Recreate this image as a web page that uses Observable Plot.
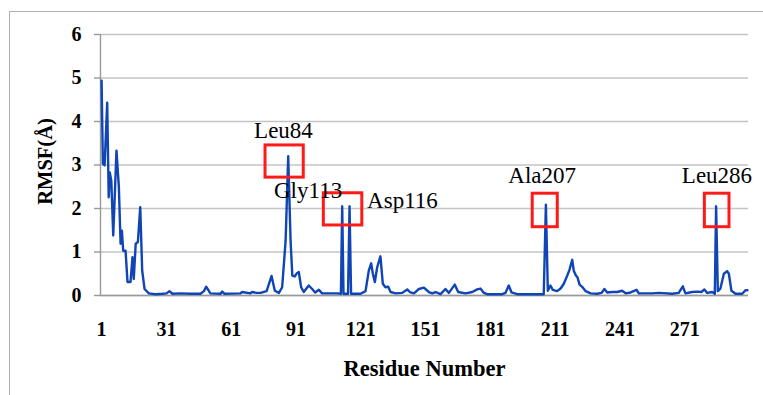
<!DOCTYPE html>
<html>
<head>
<meta charset="utf-8">
<script src="https://cdn.jsdelivr.net/npm/d3@7"></script>
<script src="https://cdn.jsdelivr.net/npm/@observablehq/plot@0.6"></script>
<style>
  html, body { margin: 0; padding: 0; background: #fff; }
  #wrap { position: relative; width: 763px; height: 395px; overflow: hidden; background: #fff; }
  #wrap svg { position: absolute; left: 0; top: 0; }
  .edgeTop { position: absolute; left: 9px; top: 11px; width: 760px; height: 0; border-top: 1.5px solid #b0b0b0; }
  .edgeLeft { position: absolute; left: 9px; top: 11px; width: 0; height: 400px; border-left: 1.5px solid #b0b0b0; }
</style>
</head>
<body>
<div id="wrap"><div class="edgeTop"></div><div class="edgeLeft"></div></div>
<script>
// Residue positions and RMSF (Å) values
const residue = [1,1.6,2.4,3.6,4.3,4.8,5.5,6.4,7.9,9,
  9.8,10.4,11,12.1,13,14.4,15.3,15.9,16.8,17.8,
  18.9,19.8,20.9,22.9,26,29.2,31.1,32.4,33.8,37.5,
  42.2,46.8,48.4,49.4,50.5,51.4,56.1,56.8,57.9,65.3,
  66.1,69.9,70.7,72.7,74.6,77.4,79.7,81.2,83.1,84.6,
  86.2,87.4,88.5,89.3,90.5,91.2,92.3,93.4,94.6,96.9,
  98.5,99.9,101.6,103.1,110.1,111.8,112.4,113,115.1,115.8,
  116.5,120.9,123.2,124.7,125.8,126.6,127.5,128.6,130.1,131.2,
  132.4,133.7,134.8,137.1,140.2,142.5,143.7,145.6,147.9,150.2,
  152.5,154.1,155.6,157.9,160.2,161.8,164.5,166.1,169.5,172.6,
  174.9,176.4,178,179.5,186.5,188,189.5,190.8,193.4,205.7,
  206.7,207.6,208.8,209.9,211.9,213.5,215,216.6,217.6,218.9,
  219.6,220.6,221.3,222.3,223.5,225.1,227.4,230.5,232.5,233.8,
  235.1,237.4,239.7,242,243.6,245.9,248.7,249.7,255.9,259,
  265.2,268.2,270.1,271.3,274.4,276.8,278.7,280.1,281.4,283.7,
  284.9,285.5,286.3,287.5,289.1,290.6,291.4,292.6,294.5,297.6,
  299.1,300];
const rmsf = [4.94,3.03,2.99,4.43,2.26,2.83,2.64,1.38,3.33,2.49,
  1.19,1.49,1.03,1.03,0.31,0.31,0.88,0.38,1.19,1.23,
  2.03,0.57,0.15,0.05,0.03,0.04,0.05,0.1,0.04,0.05,
  0.04,0.04,0.1,0.2,0.12,0.05,0.04,0.09,0.04,0.05,
  0.08,0.05,0.08,0.06,0.06,0.1,0.45,0.11,0.06,0.19,
  1.26,3.2,1.26,0.46,0.44,0.5,0.54,0.19,0.08,0.23,
  0.15,0.07,0.13,0.05,0.05,0.04,2.05,0.04,0.04,2.05,
  0.04,0.04,0.1,0.57,0.74,0.5,0.31,0.65,0.9,0.27,
  0.19,0.2,0.08,0.05,0.06,0.14,0.08,0.05,0.15,0.18,
  0.08,0.05,0.08,0.03,0.15,0.06,0.25,0.08,0.05,0.08,
  0.14,0.16,0.06,0.03,0.03,0.06,0.23,0.07,0.03,0.03,
  2.09,0.11,0.23,0.13,0.1,0.16,0.27,0.46,0.59,0.82,
  0.57,0.46,0.42,0.25,0.2,0.1,0.05,0.04,0.06,0.15,
  0.07,0.08,0.08,0.11,0.05,0.07,0.13,0.05,0.05,0.06,
  0.04,0.06,0.21,0.05,0.08,0.09,0.08,0.14,0.06,0.08,
  0.04,2.05,0.1,0.16,0.5,0.56,0.5,0.11,0.04,0.04,
  0.12,0.12];

const xTicks = [1, 31, 61, 91, 121, 151, 181, 211, 241, 271];
const yTicks = [0, 1, 2, 3, 4, 5, 6];

// Annotations: residue names, label anchor (residue, RMSF), highlight boxes
const labelNames = ["Leu84", "Gly113", "Asp116", "Ala207", "Leu286"];
const labelAtResidue = [85.2, 96.6, 140.3, 205, 285.9];
const labelAtRmsf = [3.78, 2.41, 2.18, 2.76, 2.76];
const boxFromResidue = [76.9, 103.9, 200.6, 280.3];
const boxToResidue = [94.6, 121.7, 212.2, 291.7];
const boxLowRmsf = [2.71, 1.61, 1.57, 1.57];
const boxHighRmsf = [3.45, 2.35, 2.34, 2.34];

const series = residue.map((r, i) => ({residue: r, rmsf: rmsf[i]}));
const labels = labelNames.map((n, i) => ({name: n, x: labelAtResidue[i], y: labelAtRmsf[i]}));
const boxes = boxFromResidue.map((b, i) => ({x1: b, x2: boxToResidue[i], y1: boxLowRmsf[i], y2: boxHighRmsf[i]}));

const serif = "'Liberation Serif', 'Times New Roman', serif";

const chart = Plot.plot({
  width: 763,
  height: 395,
  marginLeft: 100,
  marginRight: 15,
  marginTop: 34,
  marginBottom: 100,
  style: {fontFamily: serif, background: "transparent", color: "black", overflow: "visible"},
  x: {domain: [0.5, 300.5], label: null},
  y: {domain: [0, 6], label: null},
  marks: [
    Plot.gridY(yTicks, {stroke: "#c4c4c4", strokeOpacity: 1, strokeWidth: 1.4}),
    Plot.ruleY([0], {stroke: "#999999", strokeWidth: 1.4}),
    Plot.ruleX([0.5], {stroke: "#999999", strokeWidth: 1.4}),
    Plot.axisY(yTicks, {tickSize: 6, tickPadding: 13, stroke: "#999999", strokeWidth: 1.4,
      fontSize: 20, fontWeight: "bold", fill: "black", label: null}),
    Plot.axisX(xTicks, {tickSize: 0, tickPadding: 26, fontSize: 20, fontWeight: "bold",
      fill: "black", label: null}),
    Plot.line(series, {x: "residue", y: "rmsf", stroke: "#0f45b4", strokeWidth: 2.4,
      strokeLinejoin: "round", strokeLinecap: "round"}),
    Plot.rect(boxes, {x1: "x1", x2: "x2", y1: "y1", y2: "y2", fill: "none",
      stroke: "#ff1a1a", strokeWidth: 3}),
    Plot.text(labels, {x: "x", y: "y", text: "name", fontSize: 23, fill: "black",
      textAnchor: "middle", lineAnchor: "middle"}),
    Plot.text(["Residue Number"], {frameAnchor: "bottom", dy: 73, fontSize: 22.5,
      fontWeight: "bold", fill: "black", textAnchor: "middle", lineAnchor: "middle"}),
    Plot.text(["RMSF(Å)"], {frameAnchor: "left", dx: -55, dy: -3.5, rotate: -90,
      fontSize: 20.5, fontWeight: "bold", fill: "black", textAnchor: "middle", lineAnchor: "middle"})
  ]
});
document.getElementById("wrap").prepend(chart);
</script>
</body>
</html>
